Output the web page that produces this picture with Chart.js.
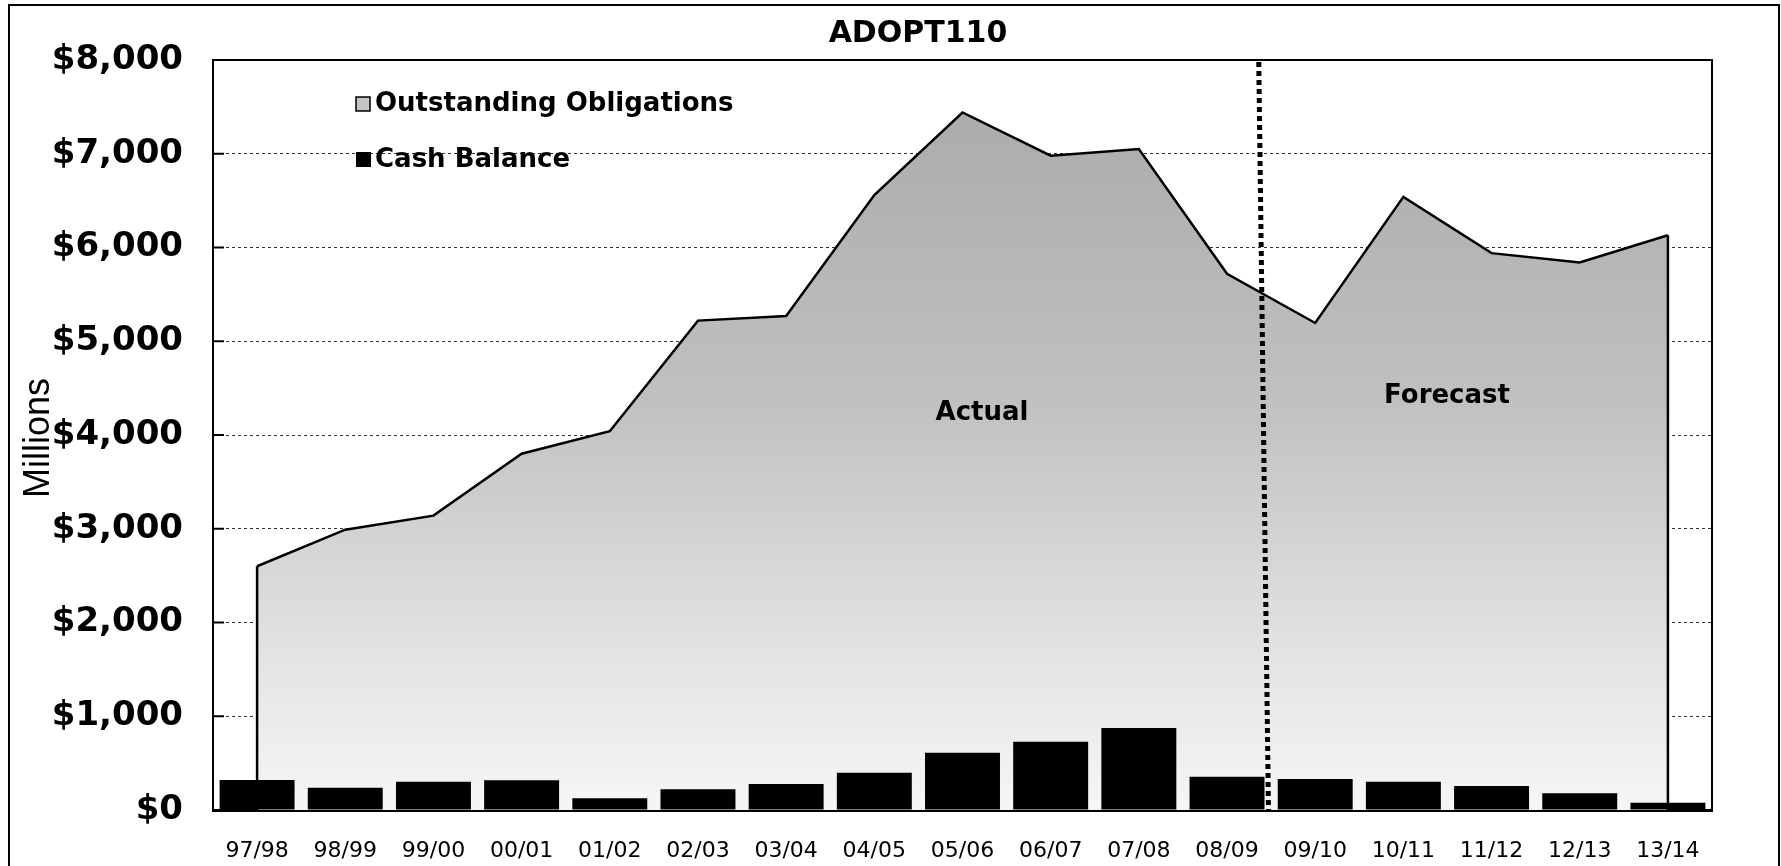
<!DOCTYPE html>
<html>
<head>
<meta charset="utf-8">
<script src="https://cdn.jsdelivr.net/npm/chart.js@4/dist/chart.umd.min.js"></script>
<style>
    html, body { margin: 0; padding: 0; background: #fff; }
    #chart { display: block; }
</style>
</head>
<body>
<canvas id="chart" width="1781" height="866"></canvas>
<script>
var years = ['97/98', '98/99', '99/00', '00/01', '01/02', '02/03', '03/04', '04/05', '05/06',
    '06/07', '07/08', '08/09', '09/10', '10/11', '11/12', '12/13', '13/14'];
var obligations = [2600, 2990, 3140, 3800, 4040, 5220, 5270, 6560, 7440, 6980, 7050, 5720, 5195, 6540, 5940, 5840, 6130];
var cashBalance = [320, 238, 302, 318, 126, 222, 277, 398, 610, 728, 875, 355, 330, 302, 256, 180, 78];
var yTicks = [0, 1000, 2000, 3000, 4000, 5000, 6000, 7000, 8000];
var lastActual = '08/09'; // forecast starts after this year

var boldFont = '"DejaVu Sans", Verdana, sans-serif';

function areaFill(context) {
    var area = context.chart.chartArea;
    if (!area) return '#c8c8c8';
    var g = context.chart.ctx.createLinearGradient(0, area.top, 0, area.bottom);
    g.addColorStop(0, '#a8a8a8');
    g.addColorStop(0.45, '#c0c0c0');
    g.addColorStop(0.8, '#e4e4e4');
    g.addColorStop(1, '#f6f6f6');
    return g;
}

var decor = {
    id: 'decor',
    beforeDraw: function(chart) {
        var ctx = chart.ctx;
        ctx.save();
        ctx.fillStyle = '#fff';
        ctx.fillRect(0, 0, chart.width, chart.height);
        ctx.restore();
    },
    afterDatasetDraw: function(chart, args) {
        // close the area with vertical edges at both ends
        if (args.meta.type !== 'line') return;
        var ctx = chart.ctx, pts = args.meta.data, base = chart.scales.y.getPixelForValue(0);
        ctx.save();
        ctx.strokeStyle = '#000';
        ctx.lineWidth = 2.5;
        [pts[0], pts[pts.length - 1]].forEach(function(p) {
            ctx.beginPath();
            ctx.moveTo(p.x, base);
            ctx.lineTo(p.x, p.y);
            ctx.stroke();
        });
        ctx.restore();
    },
    afterDraw: function(chart) {
        var ctx = chart.ctx, a = chart.chartArea, x = chart.scales.x, y = chart.scales.y;
        ctx.save();

        // plot box top and right
        ctx.strokeStyle = '#000';
        ctx.lineWidth = 2;
        ctx.beginPath();
        ctx.moveTo(a.left, a.top);
        ctx.lineTo(a.right, a.top);
        ctx.lineTo(a.right, a.bottom);
        ctx.stroke();

        // inward tick marks
        yTicks.forEach(function(v) {
            var py = y.getPixelForValue(v);
            ctx.beginPath();
            ctx.moveTo(a.left, py);
            ctx.lineTo(a.left + 11, py);
            ctx.stroke();
        });

        // actual / forecast divider, a little skewed like the scan
        var i = years.indexOf(lastActual);
        var step = x.getPixelForValue(i + 1) - x.getPixelForValue(i);
        var x0 = x.getPixelForValue(i);
        ctx.lineWidth = 5;
        ctx.setLineDash([5, 4]);
        ctx.beginPath();
        ctx.moveTo(x0 + 0.36 * step, a.top + 2);
        ctx.lineTo(x0 + 0.47 * step, a.bottom);
        ctx.stroke();
        ctx.setLineDash([]);

        ctx.fillStyle = '#000';
        ctx.textAlign = 'center';
        ctx.textBaseline = 'middle';
        ctx.font = 'bold 30px ' + boldFont;
        ctx.fillText('ADOPT110', 918, 34);

        ctx.font = 'bold 26px ' + boldFont;
        ctx.fillText('Actual', 982, 413);
        ctx.fillText('Forecast', 1447, 396);

        // legend
        ctx.textAlign = 'left';
        ctx.font = 'bold 26px ' + boldFont;
        ctx.fillStyle = '#c4c4c4';
        ctx.fillRect(356, 97, 14, 14);
        ctx.lineWidth = 1.5;
        ctx.strokeRect(356, 97, 14, 14);
        ctx.fillStyle = '#000';
        ctx.fillText(chart.data.datasets[1].label, 375, 104);
        ctx.fillRect(356, 152, 15, 15);
        ctx.fillText(chart.data.datasets[0].label, 375, 160);

        // axis title
        ctx.save();
        ctx.translate(39, 438);
        ctx.rotate(-Math.PI / 2);
        ctx.textAlign = 'center';
        ctx.font = '36px "Liberation Sans", Arial, sans-serif';
        ctx.fillText('Millions', 0, 0);
        ctx.restore();

        // outer frame
        ctx.lineWidth = 2;
        ctx.strokeStyle = '#000';
        ctx.strokeRect(9, 5, 1770, 870);
        ctx.restore();
    }
};

new Chart(document.getElementById('chart'), {
    type: 'bar',
    data: {
        labels: years,
        datasets: [{
            type: 'bar',
            label: 'Cash Balance',
            data: cashBalance,
            backgroundColor: '#000',
            barPercentage: 0.85,
            categoryPercentage: 1,
            order: 0
        }, {
            type: 'line',
            label: 'Outstanding Obligations',
            data: obligations,
            fill: 'origin',
            borderColor: '#000',
            borderWidth: 2.5,
            backgroundColor: areaFill,
            pointRadius: 0,
            tension: 0,
            order: 1
        }]
    },
    options: {
        responsive: false,
        animation: false,
        devicePixelRatio: 1,
        layout: { padding: { top: 60, right: 69, left: 0, bottom: 0 } },
        plugins: {
            legend: { display: false },
            title: { display: false },
            tooltip: { enabled: false }
        },
        scales: {
            x: {
                afterFit: function(scale) { scale.height = 56; },
                grid: { display: false, drawTicks: false },
                border: { display: true, color: '#000', width: 3 },
                ticks: {
                    color: '#000',
                    padding: 28,
                    maxRotation: 0,
                    font: { family: boldFont, size: 22 }
                }
            },
            y: {
                min: 0,
                max: 8000,
                afterFit: function(scale) { scale.width = 213; },
                afterBuildTicks: function(scale) {
                    scale.ticks = yTicks.map(function(v) { return { value: v }; });
                },
                grid: {
                    drawTicks: false,
                    color: function(c) {
                        return (c.tick && (c.tick.value === 0 || c.tick.value === 8000)) ? 'rgba(0,0,0,0)' : '#333';
                    },
                    lineWidth: 1
                },
                border: { display: true, color: '#000', width: 2, dash: [3, 3] },
                ticks: {
                    color: '#000',
                    padding: 30,
                    font: { family: boldFont, size: 34, weight: 'bold' },
                    callback: function(v) { return '$' + v.toLocaleString('en-US'); }
                }
            }
        }
    },
    plugins: [decor]
});
</script>
</body>
</html>
